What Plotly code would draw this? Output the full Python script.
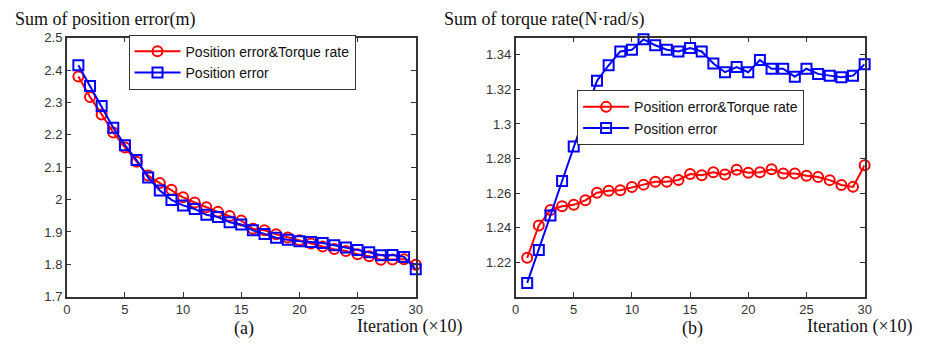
import plotly.graph_objects as go

iterations = list(range(1, 31))

pos_err_combined = [2.380, 2.317, 2.263, 2.207, 2.161, 2.117, 2.074, 2.051, 2.030, 2.007,
                    1.991, 1.976, 1.962, 1.949, 1.935, 1.910, 1.905, 1.893, 1.883, 1.874,
                    1.864, 1.855, 1.847, 1.841, 1.831, 1.825, 1.814, 1.815, 1.816, 1.799]
pos_err_only = [2.415, 2.351, 2.289, 2.222, 2.168, 2.122, 2.068, 2.028, 1.999, 1.982,
                1.971, 1.953, 1.946, 1.930, 1.923, 1.905, 1.894, 1.882, 1.876, 1.871,
                1.869, 1.866, 1.859, 1.852, 1.844, 1.837, 1.828, 1.829, 1.823, 1.785]

torque_combined = [1.2225, 1.2413, 1.2502, 1.2524, 1.2532, 1.2558, 1.2602, 1.2613, 1.2617, 1.2635,
                   1.2649, 1.2665, 1.2665, 1.2676, 1.2710, 1.2703, 1.2721, 1.2707, 1.2735, 1.2718,
                   1.2721, 1.2738, 1.2714, 1.2714, 1.2701, 1.2693, 1.2675, 1.2647, 1.2636, 1.2761]
torque_pos_only = [1.208, 1.227, 1.247, 1.267, 1.287, 1.306, 1.325, 1.334, 1.342, 1.343,
                   1.349, 1.3456, 1.343, 1.342, 1.344, 1.342, 1.335, 1.330, 1.333, 1.330,
                   1.337, 1.332, 1.332, 1.3274, 1.332, 1.329, 1.328, 1.327, 1.328, 1.3346]

x_ticks = [0, 5, 10, 15, 20, 25, 30]
left_y_ticks = [1.7, 1.8, 1.9, 2.0, 2.1, 2.2, 2.3, 2.4, 2.5]
left_y_labels = ["1.7", "1.8", "1.9", "2", "2.1", "2.2", "2.3", "2.4", "2.5"]
right_y_ticks = [1.22, 1.24, 1.26, 1.28, 1.30, 1.32, 1.34]
right_y_labels = ["1.22", "1.24", "1.26", "1.28", "1.3", "1.32", "1.34"]

name_combined = "Position error&Torque rate"
name_pos = "Position error"

RED = "#ff0000"
BLUE = "#0000ff"

fig = go.Figure()

def add(x, y, name, color, symbol, xa, ya, legend):
    fig.add_trace(go.Scatter(
        x=x, y=y, name=name, mode="lines+markers",
        line=dict(color=color, width=2),
        marker=dict(symbol=symbol, size=10, color="rgba(255,255,255,0)",
                    line=dict(color=color, width=2)),
        xaxis=xa, yaxis=ya, legend=legend, cliponaxis=False,
    ))

add(iterations, pos_err_combined, name_combined, RED, "circle", "x", "y", "legend")
add(iterations, pos_err_only, name_pos, BLUE, "square", "x", "y", "legend")
add(iterations, torque_combined, name_combined, RED, "circle", "x2", "y2", "legend2")
add(iterations, torque_pos_only, name_pos, BLUE, "square", "x2", "y2", "legend2")

axis_common = dict(
    showline=True, linecolor="#333333", linewidth=1.5, mirror="ticks",
    ticks="inside", ticklen=5, tickcolor="#333333", showgrid=False, zeroline=False,
    tickfont=dict(family="Liberation Sans, Arial, sans-serif", size=13, color="#333333"),
)

W, H = 925, 350
def fx(px):
    return px / W
def fy(py):
    return 1 - py / H

legend_font = dict(family="Liberation Sans, Arial, sans-serif", size=14, color="#111111")

fig.update_layout(
    width=W, height=H,
    margin=dict(l=0, r=0, t=0, b=0),
    paper_bgcolor="white", plot_bgcolor="white",
    xaxis=dict(domain=[fx(63.5), fx(416.7)], range=[0, 30], tickvals=x_ticks, anchor="y", **axis_common),
    yaxis=dict(domain=[fy(302.7), fy(32)], range=[1.7, 2.5], tickvals=left_y_ticks,
               ticktext=left_y_labels, anchor="x", **axis_common),
    xaxis2=dict(domain=[fx(517.7), fx(871)], range=[0, 30], tickvals=x_ticks, anchor="y2", **axis_common),
    yaxis2=dict(domain=[fy(302.7), fy(32)], range=[1.2, 1.35], tickvals=right_y_ticks,
                ticktext=right_y_labels, anchor="x2", **axis_common),
    legend=dict(x=fx(126), y=fy(29), xanchor="left", yanchor="top",
                bgcolor="white", bordercolor="#333333", borderwidth=1,
                font=legend_font, tracegroupgap=0, itemwidth=46),
    legend2=dict(x=fx(580), y=fy(87), xanchor="left", yanchor="top",
                 bgcolor="white", bordercolor="#333333", borderwidth=1,
                 font=legend_font, tracegroupgap=0, itemwidth=46),
    showlegend=True,
)

serif = dict(family="Liberation Serif, Times New Roman, serif", size=18, color="#111111")
annots = [
    ("Sum of position error(m)", 9, 13, "left"),
    ("Sum of torque rate(N·rad/s)", 443, 13, "left"),
    ("(a)", 243, 336, "center"),
    ("Iteration (×10)", 467, 334, "right"),
    ("(b)", 697, 336, "center"),
    ("Iteration (×10)", 922, 334, "right"),
]
for text, px, py, anchor in annots:
    fig.add_annotation(text=text, x=fx(px), y=fy(py), xref="paper", yref="paper",
                       xanchor=anchor, yanchor="middle", showarrow=False, font=serif)

fig.write_html("out.html")
